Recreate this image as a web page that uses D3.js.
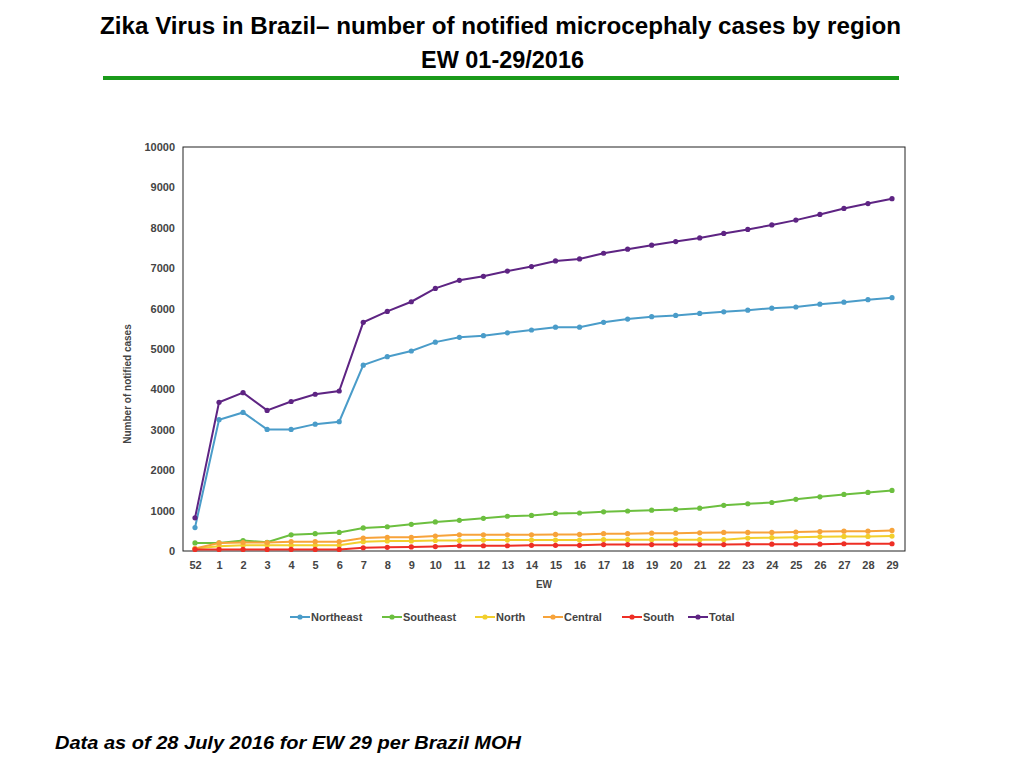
<!DOCTYPE html>
<html><head><meta charset="utf-8">
<script src="https://cdn.jsdelivr.net/npm/d3@7"></script>
<style>body{margin:0;background:#fff;font-family:"Liberation Sans",Arial,sans-serif}</style>
</head><body>
<script>
var weeks = ["52","1","2","3","4","5","6","7","8","9","10","11","12","13","14","15","16","17","18","19","20","21","22","23","24","25","26","27","28","29"];
var northeast = [580,3250,3430,3010,3010,3140,3200,4600,4810,4950,5170,5290,5330,5400,5470,5540,5540,5660,5740,5800,5830,5880,5920,5960,6010,6040,6110,6160,6220,6270];
var southeast = [200,200,260,215,400,430,460,570,600,660,720,760,810,860,880,930,940,970,990,1010,1030,1060,1130,1170,1200,1280,1340,1400,1450,1500];
var north = [60,120,140,140,140,140,140,230,250,250,260,260,270,270,270,270,270,280,280,280,280,280,280,320,330,340,350,360,360,370];
var central = [60,200,210,210,230,230,230,320,340,340,370,400,400,400,400,410,410,430,430,440,440,450,460,460,460,470,480,490,490,510];
var south = [40,40,40,40,40,40,40,80,90,100,110,130,130,130,140,140,140,160,160,160,160,160,160,170,170,170,170,180,180,180];
var total = [820,3680,3920,3480,3700,3880,3960,5660,5930,6170,6500,6700,6800,6930,7040,7180,7230,7370,7470,7570,7660,7750,7860,7960,8070,8190,8330,8480,8600,8720];
var series = [
  {name:"Northeast", values:northeast, color:"#4a9cc9"},
  {name:"Southeast", values:southeast, color:"#6cbf3f"},
  {name:"North", values:north, color:"#f2cf2c"},
  {name:"Central", values:central, color:"#f7a33a"},
  {name:"South", values:south, color:"#ee2f25"},
  {name:"Total", values:total, color:"#5e2483"}
];
var yTicks = d3.range(0, 10001, 1000);

var svg = d3.select("body").append("svg").attr("width",1024).attr("height",768);
svg.append("text").attr("x",100).attr("y",34)
  .attr("font-size",23).attr("font-weight","bold")
  .attr("textLength",801).attr("lengthAdjust","spacingAndGlyphs")
  .text("Zika Virus in Brazil\u2013  number of  notified microcephaly cases by region");
svg.append("text").attr("x",421).attr("y",68)
  .attr("font-size",23).attr("font-weight","bold")
  .attr("textLength",163).attr("lengthAdjust","spacingAndGlyphs")
  .text("EW 01-29/2016");
svg.append("rect").attr("x",103).attr("y",76).attr("width",796).attr("height",4).attr("fill","#1a9a1a");

var L=183, R=905, T=147, B=551;
var x = d3.scalePoint().domain(weeks).range([195,892]);
var y = d3.scaleLinear().domain([0,10000]).range([B,T]);
svg.append("rect").attr("x",L).attr("y",T).attr("width",R-L).attr("height",B-T)
  .attr("fill","none").attr("stroke","#222").attr("stroke-width",1);

var ya = svg.append("g").attr("transform","translate("+L+",0)")
  .call(d3.axisLeft(y).tickValues(yTicks).tickFormat(d3.format("d")).tickSize(0).tickPadding(8));
ya.select(".domain").remove();
ya.selectAll("text").attr("font-size",11).attr("font-weight","bold").attr("fill","#444");
var xa = svg.append("g").attr("transform","translate(0,"+B+")")
  .call(d3.axisBottom(x).tickSize(0).tickPadding(10));
xa.select(".domain").remove();
xa.selectAll("text").attr("font-size",11).attr("font-weight","bold").attr("fill","#444");

svg.append("text").attr("x",544).attr("y",588).attr("text-anchor","middle")
  .attr("font-size",10).attr("font-weight","bold").attr("fill","#444").text("EW");
svg.append("text").attr("transform","translate(131,384) rotate(-90)").attr("text-anchor","middle")
  .attr("font-size",10).attr("font-weight","bold").attr("fill","#444").text("Number of notified cases");

var line = d3.line().x(function(d,i){return x(weeks[i]);}).y(function(d){return y(d);});
series.forEach(function(s){
  svg.append("path").datum(s.values).attr("d",line).attr("fill","none")
    .attr("stroke",s.color).attr("stroke-width",2);
  svg.selectAll(null).data(s.values).enter().append("circle")
    .attr("cx",function(d,i){return x(weeks[i]);}).attr("cy",function(d){return y(d);})
    .attr("r",2.6).attr("fill",s.color);
});

var legX = [290,382,475,543,622,688];
series.forEach(function(s,i){
  var g = svg.append("g").attr("transform","translate("+legX[i]+",617)");
  g.append("line").attr("x1",0).attr("x2",20).attr("stroke",s.color).attr("stroke-width",2);
  g.append("circle").attr("cx",10).attr("r",2.6).attr("fill",s.color);
  g.append("text").attr("x",21).attr("y",4).attr("font-size",11).attr("font-weight","bold")
    .attr("fill","#444").text(s.name);
});

svg.append("text").attr("x",55).attr("y",749).attr("font-size",18).attr("font-weight","bold")
  .attr("font-style","italic").attr("textLength",466).attr("lengthAdjust","spacingAndGlyphs")
  .text("Data as of 28 July 2016 for EW 29 per Brazil MOH");
</script>
</body></html>
